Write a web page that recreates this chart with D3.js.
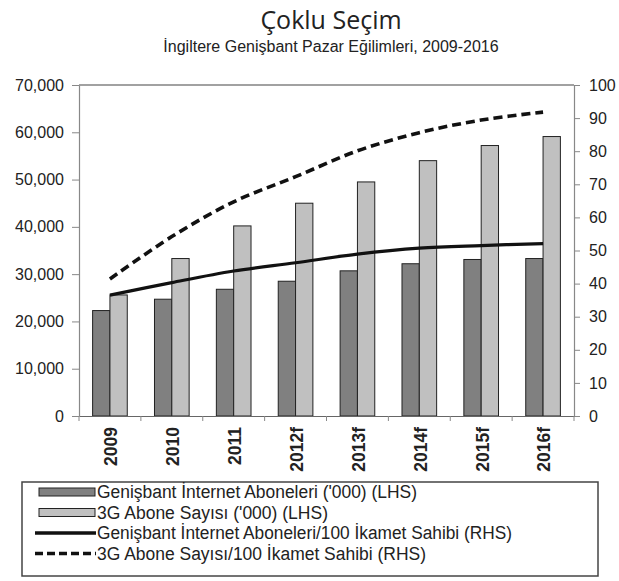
<!DOCTYPE html>
<html>
<head>
<meta charset="utf-8">
<script src="https://cdn.jsdelivr.net/npm/d3@7"></script>
<style>
  body { margin: 0; background: #fff; }
  svg { display: block; font-family: "Liberation Sans", Arial, Helvetica, sans-serif; }
</style>
</head>
<body>
<div id="chart"></div>
<script>
// data
const categories = ['2009', '2010', '2011', '2012f', '2013f', '2014f', '2015f', '2016f'];
const broadbandSubs = [22300, 24700, 26800, 28500, 30700, 32200, 33100, 33300];   // '000, LHS
const subs3G = [25600, 33300, 40200, 45000, 49500, 54000, 57200, 59100];          // '000, LHS
const broadbandPer100 = [36.5, 40.3, 43.8, 46.3, 48.9, 50.7, 51.5, 52.1];         // RHS
const subs3GPer100 = [41.4, 54.2, 64.7, 72.3, 80.1, 85.6, 89.4, 91.8];            // RHS
const leftTicks = [0, 10000, 20000, 30000, 40000, 50000, 60000, 70000];
const rightTicks = [0, 10, 20, 30, 40, 50, 60, 70, 80, 90, 100];
const legendLabels = [
  "Genişbant İnternet Aboneleri ('000) (LHS)",
  "3G Abone Sayısı ('000) (LHS)",
  "Genişbant İnternet Aboneleri/100 İkamet Sahibi (RHS)",
  "3G Abone Sayısı/100 İkamet Sahibi (RHS)"
];

const W = 619, H = 581;
const plot = { left: 79, right: 574, top: 85, bottom: 416 };

const svg = d3.select('#chart').append('svg')
  .attr('width', W).attr('height', H);

// titles
svg.append('text')
  .attr('x', 331).attr('y', 29)
  .attr('text-anchor', 'middle')
  .style('font-family', '"Open Sans", sans-serif')
  .style('font-size', '25px')
  .attr('fill', '#222')
  .text('Çoklu Seçim');

svg.append('text')
  .attr('x', 331).attr('y', 52)
  .attr('text-anchor', 'middle')
  .style('font-size', '16px')
  .attr('fill', '#222')
  .text('İngiltere Genişbant Pazar Eğilimleri, 2009-2016');

// scales
const x0 = d3.scaleBand()
  .domain(categories)
  .range([plot.left, plot.right])
  .paddingInner(0.44)
  .paddingOuter(0.22);

const x1 = d3.scaleBand()
  .domain(['bb', '3g'])
  .range([0, x0.bandwidth()]);

const yL = d3.scaleLinear().domain([0, 70000]).range([plot.bottom, plot.top]);
const yR = d3.scaleLinear().domain([0, 100]).range([plot.bottom, plot.top]);

// plot frame top line
svg.append('line')
  .attr('x1', plot.left).attr('x2', plot.right)
  .attr('y1', plot.top).attr('y2', plot.top)
  .attr('stroke', '#444').attr('stroke-width', 1.2);

// bars
const groups = svg.append('g').selectAll('g')
  .data(categories)
  .join('g')
  .attr('transform', c => `translate(${x0(c)},0)`);

groups.append('rect')
  .attr('x', x1('bb'))
  .attr('y', (c, i) => yL(broadbandSubs[i]))
  .attr('width', x1.bandwidth())
  .attr('height', (c, i) => plot.bottom - yL(broadbandSubs[i]))
  .attr('fill', '#808080')
  .attr('stroke', '#222').attr('stroke-width', 1);

groups.append('rect')
  .attr('x', x1('3g'))
  .attr('y', (c, i) => yL(subs3G[i]))
  .attr('width', x1.bandwidth())
  .attr('height', (c, i) => plot.bottom - yL(subs3G[i]))
  .attr('fill', '#c0c0c0')
  .attr('stroke', '#222').attr('stroke-width', 1);

// axes
const leftAxis = svg.append('g')
  .attr('transform', `translate(${plot.left},0)`)
  .call(d3.axisLeft(yL).tickValues(leftTicks).tickSize(7).tickSizeOuter(0).tickPadding(8)
    .tickFormat(d3.format(',')));

const rightAxis = svg.append('g')
  .attr('transform', `translate(${plot.right},0)`)
  .call(d3.axisRight(yR).tickValues(rightTicks).tickSize(6).tickSizeOuter(0).tickPadding(9));

const bottomAxis = svg.append('g')
  .attr('transform', `translate(0,${plot.bottom})`)
  .call(d3.axisBottom(x0).tickSize(0).tickSizeOuter(0).tickPadding(0));

// ticks on the category boundaries
const boundaries = categories.map(c => x0(c) - x0.step() * x0.paddingOuter()).concat([plot.right]);
svg.append('g').selectAll('line')
  .data(boundaries)
  .join('line')
  .attr('x1', d => d).attr('x2', d => d)
  .attr('y1', plot.bottom).attr('y2', plot.bottom + 5)
  .attr('stroke', '#888');

[leftAxis, rightAxis, bottomAxis].forEach(a => {
  a.selectAll('.domain').attr('stroke', '#888').attr('stroke-width', 1.2);
  a.selectAll('.tick line').attr('stroke', '#888');
  a.selectAll('text').attr('fill', '#222').style('font-size', '16px');
});
bottomAxis.selectAll('.domain').attr('stroke', '#666');

bottomAxis.selectAll('.tick text')
  .attr('transform', 'rotate(-90)')
  .attr('text-anchor', 'end')
  .attr('x', -11).attr('y', 1).attr('dy', '0.36em')
  .style('font-weight', 'bold')
  .style('font-size', '17.5px');

// lines
const cx = c => x0(c) + x0.bandwidth() / 2;

const smoothLine = d3.line()
  .x((v, i) => cx(categories[i]))
  .y(v => yR(v))
  .curve(d3.curveCatmullRom.alpha(0.5));

svg.append('path')
  .datum(broadbandPer100)
  .attr('d', smoothLine)
  .attr('fill', 'none')
  .attr('stroke', '#111').attr('stroke-width', 3.2);

svg.append('path')
  .datum(subs3GPer100)
  .attr('d', smoothLine)
  .attr('fill', 'none')
  .attr('stroke', '#111').attr('stroke-width', 3.6)
  .attr('stroke-dasharray', '9,5');

// legend
const lg = svg.append('g');
lg.append('rect')
  .attr('x', 22).attr('y', 482).attr('width', 576).attr('height', 94)
  .attr('fill', '#fff').attr('stroke', '#444').attr('stroke-width', 1.5);

const rowY = [492, 512.5, 533, 553.5];
const textWidths = [320, 231, 415, 329];

lg.append('rect')
  .attr('x', 39).attr('y', rowY[0] - 4).attr('width', 56).attr('height', 8)
  .attr('fill', '#808080').attr('stroke', '#222').attr('stroke-width', 1);
lg.append('rect')
  .attr('x', 39).attr('y', rowY[1] - 4).attr('width', 56).attr('height', 8)
  .attr('fill', '#c0c0c0').attr('stroke', '#222').attr('stroke-width', 1);
lg.append('line')
  .attr('x1', 35).attr('x2', 96).attr('y1', rowY[2]).attr('y2', rowY[2])
  .attr('stroke', '#111').attr('stroke-width', 3.5);
lg.append('line')
  .attr('x1', 35).attr('x2', 96).attr('y1', rowY[3]).attr('y2', rowY[3])
  .attr('stroke', '#111').attr('stroke-width', 3.5)
  .attr('stroke-dasharray', '8,4');

lg.selectAll('text.lbl')
  .data(legendLabels)
  .join('text')
  .attr('class', 'lbl')
  .attr('x', 97)
  .attr('y', (d, i) => rowY[i])
  .attr('dy', '0.36em')
  .attr('textLength', (d, i) => textWidths[i])
  .attr('lengthAdjust', 'spacingAndGlyphs')
  .style('font-size', '18px')
  .attr('fill', '#222')
  .text(d => d);
</script>
</body>
</html>
